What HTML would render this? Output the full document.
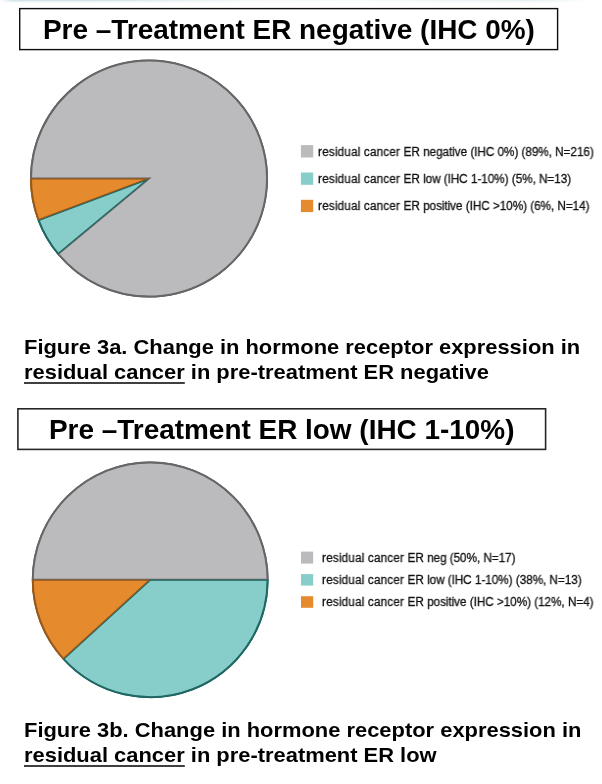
<!DOCTYPE html>
<html>
<head>
<meta charset="utf-8">
<title>Figure 3</title>
<style>
html,body{margin:0;padding:0;background:#fff;}
body{width:602px;height:784px;position:relative;overflow:hidden;font-family:"Liberation Sans",sans-serif;color:#000;}
.abs{position:absolute;}
.tx{will-change:transform;position:absolute;z-index:2;display:inline-block;white-space:nowrap;transform-origin:0 0;line-height:1;}
.tt{font-weight:bold;font-size:27.2px;transform:scaleX(1.027);}
.cp{font-weight:bold;font-size:20.1px;transform:scaleX(1.09);}
.cp u{text-decoration:none;}
.lg{font-size:12px;color:#111;-webkit-text-stroke:0.3px #111;transform:scaleX(0.98);}
svg{position:absolute;left:0;top:0;}
.k1{letter-spacing:.16px;}
.k2{letter-spacing:-.05px;}
</style>
</head>
<body>
<div class="abs" id="topstrip" style="left:0;top:0;width:602px;height:1px;background:linear-gradient(to right,rgba(205,224,228,0) 0,rgba(205,224,228,.85) 2%,rgba(205,224,228,.8) 18%,rgba(205,224,228,.2) 42%,rgba(205,224,228,.15) 60%,rgba(205,224,228,.5) 88%,rgba(205,224,228,0) 98%);"></div>
<div class="abs" style="left:0;top:1px;width:602px;height:1px;opacity:.55;background:linear-gradient(to right,rgba(205,224,228,0) 0,rgba(205,224,228,.85) 2%,rgba(205,224,228,.8) 18%,rgba(205,224,228,.2) 42%,rgba(205,224,228,.15) 60%,rgba(205,224,228,.5) 88%,rgba(205,224,228,0) 98%);"></div>
<div class="abs" style="left:0;top:2px;width:602px;height:1px;opacity:.2;background:linear-gradient(to right,rgba(205,224,228,0) 0,rgba(205,224,228,.85) 2%,rgba(205,224,228,.8) 18%,rgba(205,224,228,.2) 42%,rgba(205,224,228,.15) 60%,rgba(205,224,228,.5) 88%,rgba(205,224,228,0) 98%);"></div>

<span class="tx tt" id="t1s" style="left:42.6px;top:16px;">Pre –Treatment ER negative (IHC 0%)</span>

<svg width="602" height="784" viewBox="0 0 602 784">
  <rect x="19.7" y="8.6" width="537.9" height="41" fill="#fff" stroke="#0d0d0d" stroke-width="1.4"/>
  <rect x="17.9" y="408.8" width="527.7" height="40.6" fill="#fff" stroke="#262626" stroke-width="1.6"/>
  <g id="pie1" stroke-linejoin="miter">
    <clipPath id="a0"><path d="M149.00 178.60L57.83 254.29A118.50 118.50 0 1 0 30.50 178.60Z"/></clipPath>
    <clipPath id="a1"><path d="M149.00 178.60L38.08 220.29A118.50 118.50 0 0 0 57.83 254.29Z"/></clipPath>
    <clipPath id="a2"><path d="M149.00 178.60L30.50 178.60A118.50 118.50 0 0 0 38.08 220.29Z"/></clipPath>
    <path d="M149.00 178.60L57.83 254.29A118.50 118.50 0 1 0 30.50 178.60Z" fill="#bbbbbd" stroke="#666668" stroke-width="1.0"/>
    <path d="M149.00 178.60L38.08 220.29A118.50 118.50 0 0 0 57.83 254.29Z" fill="#87cdc9" stroke="#1f6864" stroke-width="1.0"/>
    <path d="M149.00 178.60L30.50 178.60A118.50 118.50 0 0 0 38.08 220.29Z" fill="#e68a2e" stroke="#97591b" stroke-width="1.0"/>
    <path d="M149.00 178.60L57.83 254.29A118.50 118.50 0 1 0 30.50 178.60Z" fill="none" stroke="#666668" stroke-width="2.0" clip-path="url(#a0)"/>
    <path d="M149.00 178.60L38.08 220.29A118.50 118.50 0 0 0 57.83 254.29Z" fill="none" stroke="#1f6864" stroke-width="2.0" clip-path="url(#a1)"/>
    <path d="M149.00 178.60L30.50 178.60A118.50 118.50 0 0 0 38.08 220.29Z" fill="none" stroke="#97591b" stroke-width="2.0" clip-path="url(#a2)"/>
    <path d="M58.21 253.97A118.00 118.00 0 1 0 31.00 178.60" fill="none" stroke="#666668" stroke-width="2.0"/>
    <path d="M38.54 220.12A118.00 118.00 0 0 0 58.21 253.97" fill="none" stroke="#1f6864" stroke-width="2.0"/>
    <path d="M31.00 178.60A118.00 118.00 0 0 0 38.54 220.12" fill="none" stroke="#97591b" stroke-width="2.0"/>
  </g>
  <g id="pie2" stroke-linejoin="miter">
    <clipPath id="b0"><path d="M150.20 579.80L268.10 579.80A117.90 117.90 0 0 0 32.30 579.80Z"/></clipPath>
    <clipPath id="b1"><path d="M150.20 579.80L63.07 659.22A117.90 117.90 0 0 0 268.10 579.80Z"/></clipPath>
    <clipPath id="b2"><path d="M150.20 579.80L32.30 579.80A117.90 117.90 0 0 0 63.07 659.22Z"/></clipPath>
    <path d="M150.20 579.80L268.10 579.80A117.90 117.90 0 0 0 32.30 579.80Z" fill="#bbbbbd" stroke="#666668" stroke-width="1.0"/>
    <path d="M150.20 579.80L63.07 659.22A117.90 117.90 0 0 0 268.10 579.80Z" fill="#87cdc9" stroke="#1f6864" stroke-width="1.0"/>
    <path d="M150.20 579.80L32.30 579.80A117.90 117.90 0 0 0 63.07 659.22Z" fill="#e68a2e" stroke="#97591b" stroke-width="1.0"/>
    <path d="M150.20 579.80L268.10 579.80A117.90 117.90 0 0 0 32.30 579.80Z" fill="none" stroke="#666668" stroke-width="2.0" clip-path="url(#b0)"/>
    <path d="M150.20 579.80L63.07 659.22A117.90 117.90 0 0 0 268.10 579.80Z" fill="none" stroke="#1f6864" stroke-width="2.0" clip-path="url(#b1)"/>
    <path d="M150.20 579.80L32.30 579.80A117.90 117.90 0 0 0 63.07 659.22Z" fill="none" stroke="#97591b" stroke-width="2.0" clip-path="url(#b2)"/>
    <path d="M267.60 579.80A117.40 117.40 0 0 0 32.80 579.80" fill="none" stroke="#666668" stroke-width="2.0"/>
    <path d="M63.44 658.89A117.40 117.40 0 0 0 267.60 579.80" fill="none" stroke="#1f6864" stroke-width="2.0"/>
    <path d="M32.80 579.80A117.40 117.40 0 0 0 63.44 658.89" fill="none" stroke="#97591b" stroke-width="2.0"/>
  </g>
  <rect x="300.9" y="145.1" width="12.3" height="12.4" fill="#bbbbbd"/>
  <rect x="300.9" y="172.5" width="12.3" height="12.3" fill="#87cdc9"/>
  <rect x="300.9" y="199.8" width="12.3" height="12.3" fill="#e68a2e"/>
  <rect x="301" y="551.6" width="12.2" height="12" fill="#bbbbbd"/>
  <rect x="301" y="574.1" width="12.2" height="11.5" fill="#87cdc9"/>
  <rect x="301" y="596.2" width="12.2" height="11.6" fill="#e68a2e"/>
  <path d="M24 383H184.8M24 766H184.8" stroke="#000" stroke-width="1.7" fill="none"/>
</svg>

<span class="tx lg" id="l1a" style="left:318.4px;top:145.54px;"><span class="k1">residual cancer </span><span class="k2">ER negative (IHC 0%) (89%, N=216)</span></span>
<span class="tx lg" id="l1b" style="left:318.4px;top:172.84px;"><span class="k1">residual cancer </span><span class="k2">ER low (IHC 1-10%) (5%, N=13)</span></span>
<span class="tx lg" id="l1c" style="left:318.4px;top:200.24px;"><span class="k1">residual cancer </span><span class="k2">ER positive (IHC &gt;10%) (6%, N=14)</span></span>

<span class="tx cp" id="c1a" style="left:24px;top:336.5px;">Figure 3a. Change in hormone receptor expression in</span>
<span class="tx cp" id="c1b" style="left:24px;top:362.1px;"><u>residual cancer</u> in pre-treatment ER negative</span>

<span class="tx tt" id="t2s" style="left:49.2px;top:416px;">Pre –Treatment ER low (IHC 1-10%)</span>

<span class="tx lg" id="l2a" style="left:322.1px;top:551.64px;"><span class="k1">residual cancer </span><span class="k2">ER neg (50%, N=17)</span></span>
<span class="tx lg" id="l2b" style="left:322.1px;top:573.94px;"><span class="k1">residual cancer </span><span class="k2">ER low (IHC 1-10%) (38%, N=13)</span></span>
<span class="tx lg" id="l2c" style="left:322.1px;top:596.0px;"><span class="k1">residual cancer </span><span class="k2">ER positive (IHC &gt;10%) (12%, N=4)</span></span>

<span class="tx cp" id="c2a" style="left:24px;top:719.7px;">Figure 3b. Change in hormone receptor expression in</span>
<span class="tx cp" id="c2b" style="left:24px;top:745.1px;"><u>residual cancer</u> in pre-treatment ER low</span>
</body>
</html>
